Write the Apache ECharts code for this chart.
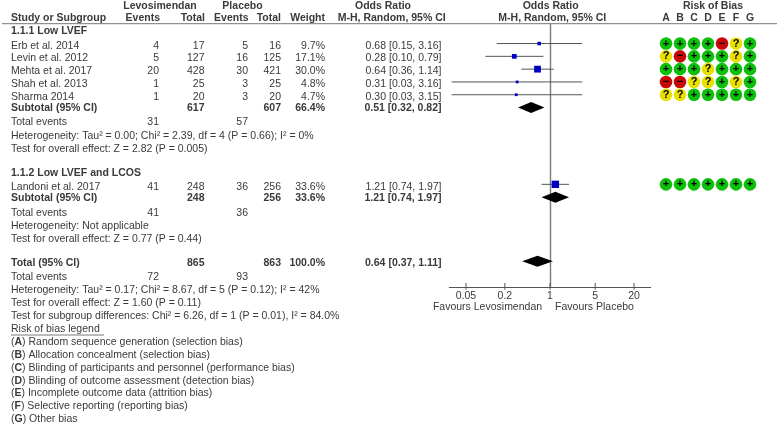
<!DOCTYPE html>
<html><head><meta charset="utf-8">
<style>html,body{margin:0;padding:0;background:#fff}#c{width:778px;height:426px;filter:blur(0.4px)}</style>
<script src="https://cdn.jsdelivr.net/npm/echarts@6/dist/echarts.min.js"></script>
</head><body><div id="c"></div>
<script>
// ---------- data ----------
const studies1 = ['Erb et al. 2014','Levin et al. 2012','Mehta et al. 2017','Shah et al. 2013','Sharma 2014'];
const eventsL1 = [4,5,20,1,1];
const totalL1  = [17,127,428,25,20];
const eventsP1 = [5,16,30,3,3];
const totalP1  = [16,125,421,25,20];
const weight1  = [9.7,17.1,30.0,4.8,4.7];
const or1 = [0.68,0.28,0.64,0.31,0.30];
const lo1 = [0.15,0.10,0.36,0.03,0.03];
const hi1 = [3.16,0.79,1.14,3.16,3.15];
const rob1 = ['++++-?+','?-+++?+','+++?+++','--??+?+','??+++++'];
const studies2 = ['Landoni et al. 2017'];
const eventsL2 = [41], totalL2 = [248], eventsP2 = [36], totalP2 = [256], weight2 = [33.6];
const or2 = [1.21], lo2 = [0.74], hi2 = [1.97];
const rob2 = ['+++++++'];
const pooledLabels = ['Subtotal (95% CI)','Subtotal (95% CI)','Total (95% CI)'];
const pooledOR = [0.51,1.21,0.64];
const pooledLo = [0.32,0.74,0.37];
const pooledHi = [0.82,1.97,1.11];
const pooledTotL = [617,248,865];
const pooledTotP = [607,256,863];
const pooledWeight = ['66.4%','33.6%','100.0%'];
const totalEventsL = [31,41,72];
const totalEventsP = [57,36,93];
const robCats = ['A','B','C','D','E','F','G'];
const tickValues = [0.05,0.2,1,5,20];
const notes1 = ['Heterogeneity: Tau² = 0.00; Chi² = 2.39, df = 4 (P = 0.66); I² = 0%','Test for overall effect: Z = 2.82 (P = 0.005)'];
const notes2 = ['Heterogeneity: Not applicable','Test for overall effect: Z = 0.77 (P = 0.44)'];
const notes3 = ['Heterogeneity: Tau² = 0.17; Chi² = 8.67, df = 5 (P = 0.12); I² = 42%','Test for overall effect: Z = 1.60 (P = 0.11)','Test for subgroup differences: Chi² = 6.26, df = 1 (P = 0.01), I² = 84.0%'];
const legendKeys = ['A','B','C','D','E','F','G'];
const legendText = ['Random sequence generation (selection bias)','Allocation concealment (selection bias)','Blinding of participants and personnel (performance bias)','Blinding of outcome assessment (detection bias)','Incomplete outcome data (attrition bias)','Selective reporting (reporting bias)','Other bias'];

// ---------- rows (table row index) ----------
const rows1 = [0,1,2,3,4], rows2 = [11], pooledRows = [5,12,17];

// ---------- layout ----------
const FS = 10.5, FF = '"Liberation Sans",Arial,sans-serif', TXT = '#3a3a3a';
const colX = {study:11, evL:159, toL:204.5, evP:248, toP:281, w:325, or:441.5};
const txtY1 = [45.7,58.6,71.2,84,97], txtY2 = [186.7], pooledY = [108.6,198.5,262.7];
const evY = [122.4,212.7,276.7];
const g = [];
function T(text,x,y,align,bold,extra){
  g.push({type:'text',x:x,y:y,silent:true,style:Object.assign({text:String(text),fill:TXT,
    font:(bold?'bold ':'')+FS+'px '+FF,textAlign:align||'left',textVerticalAlign:'middle'},extra||{})});
}
// header
T('Levosimendan',160,5.8,'center',true);T('Placebo',242.5,5.8,'center',true);
T('Odds Ratio',383,5.8,'center',true);T('Odds Ratio',550.7,5.8,'center',true);T('Risk of Bias',713,5.8,'center',true);
T('Study or Subgroup',colX.study,18.6,'left',true);T('Events',colX.evL+1,18.6,'right',true);T('Total',colX.toL+.5,18.6,'right',true);
T('Events',colX.evP+.5,18.6,'right',true);T('Total',colX.toP,18.6,'right',true);T('Weight',colX.w,18.6,'right',true);
T('M-H, Random, 95% CI',445.7,18.6,'right',true);T('M-H, Random, 95% CI',552.3,18.6,'center',true);
g.push({type:'line',silent:true,shape:{x1:2,y1:23.7,x2:777,y2:23.7},style:{stroke:'#777',lineWidth:1}});
T('1.1.1 Low LVEF',colX.study,31,'left',true);T('1.1.2 Low LVEF and LCOS',colX.study,172.7,'left',true);
const fmtOR = (o,l,h)=>o.toFixed(2)+' ['+l.toFixed(2)+', '+h.toFixed(2)+']';
function studyRows(names,eL,tL,eP,tP,w,o,l,h,ys){
  names.forEach((n,i)=>{const y=ys[i];T(n,colX.study,y);T(eL[i],colX.evL,y,'right');T(tL[i],colX.toL,y,'right');
    T(eP[i],colX.evP,y,'right');T(tP[i],colX.toP,y,'right');T(w[i].toFixed(1)+'%',colX.w,y,'right');T(fmtOR(o[i],l[i],h[i]),colX.or,y,'right');});
}
studyRows(studies1,eventsL1,totalL1,eventsP1,totalP1,weight1,or1,lo1,hi1,txtY1);
studyRows(studies2,eventsL2,totalL2,eventsP2,totalP2,weight2,or2,lo2,hi2,txtY2);
pooledLabels.forEach((n,i)=>{const y=pooledY[i];T(n,colX.study,y,'left',true);T(pooledTotL[i],colX.toL,y,'right',true);T(pooledTotP[i],colX.toP,y,'right',true);
  T(pooledWeight[i],colX.w,y,'right',true);T(fmtOR(pooledOR[i],pooledLo[i],pooledHi[i]),colX.or,y,'right',true);});
evY.forEach((y,i)=>{T('Total events',colX.study,y);T(totalEventsL[i],colX.evL,y,'right');T(totalEventsP[i],colX.evP,y,'right');});
notes1.forEach((s,i)=>T(s,colX.study,[136,149][i]));
notes2.forEach((s,i)=>T(s,colX.study,[225.7,238.7][i]));
notes3.forEach((s,i)=>T(s,colX.study,[290,302.9,315.8][i]));
T('Risk of bias legend',colX.study,329);
g.push({type:'line',silent:true,shape:{x1:11,y1:335,x2:104,y2:335},style:{stroke:'#555',lineWidth:.8}});
legendKeys.forEach((k,i)=>{
  T('({b|'+k+'}) '+legendText[i],colX.study,[342.3,355,367.8,380.7,393.5,406.3,419][i],'left',false,
    {rich:{b:{fontWeight:'bold',fontSize:FS,fontFamily:'Liberation Sans',fill:TXT}},fontSize:FS,fontFamily:'Liberation Sans'});
});
T('Favours Levosimendan',487.5,307.4,'center');T('Favours Placebo',594.5,307.4,'center');

// ---------- series data ----------
const studyData = [];
studies1.forEach((n,i)=>studyData.push([or1[i],rows1[i],lo1[i],hi1[i],weight1[i]]));
studies2.forEach((n,i)=>studyData.push([or2[i],rows2[i],lo2[i],hi2[i],weight2[i]]));
const pooledData = pooledOR.map((o,i)=>[o,pooledRows[i],pooledLo[i],pooledHi[i]]);
const robData = [];
const robAt = (arr,rows)=>arr.forEach((s,r)=>[...s].forEach((c,j)=>robData.push([robCats[j],rows[r],c])));
robAt(rob1,rows1);robAt(rob2,rows2);
const robColor = {'+':'#0cc00c','-':'#c80808','?':'#e8e000'};
const robGlyph = {'+':'+','-':'−','?':'?'};
const Y0=-1.55, Y1=19.02;

const chart = echarts.init(document.getElementById('c'),null,{renderer:'canvas'});
chart.setOption({
  animation:false, backgroundColor:'#fff',
  textStyle:{fontFamily:FF},
  graphic:{elements:g},
  grid:[{left:449.3,width:201.4,top:23.7,height:263.3},{left:659,width:98,top:23.7,height:263.3}],
  xAxis:[
    {type:'log',gridIndex:0,min:0.0276,max:36.2,logBase:10,splitLine:{show:false},minorTick:{show:false},
     axisLine:{show:true,onZero:false,lineStyle:{color:'#555',width:1}},axisTick:{show:false},
     axisLabel:{show:true,customValues:tickValues,formatter:v=>String(+(+v).toPrecision(3)),color:TXT,fontSize:FS,margin:4,hideOverlap:false,showMinLabel:true,showMaxLabel:true}},
    {type:'category',gridIndex:1,position:'top',data:robCats,axisLine:{show:false,onZero:false},axisTick:{show:false},
     axisLabel:{color:TXT,fontWeight:'bold',fontSize:FS,margin:0,interval:0,verticalAlign:'bottom',lineHeight:11}}
  ],
  yAxis:[
    {type:'value',gridIndex:0,inverse:true,min:Y0,max:Y1,show:false,splitLine:{show:false}},
    {type:'value',gridIndex:1,inverse:true,min:Y0,max:Y1,show:false,splitLine:{show:false}}
  ],
  series:[
    {type:'custom',xAxisIndex:0,yAxisIndex:0,silent:true,clip:false,z:2,data:tickValues.map(v=>[v,Y1]),
     encode:{x:0,y:1},
     renderItem:(p,api)=>{const c=api.coord([api.value(0),api.value(1)]);
       return {type:'line',shape:{x1:c[0],y1:c[1]-4,x2:c[0],y2:c[1]+2.7},style:{stroke:'#555',lineWidth:1}};},
     markLine:{silent:true,z:1,symbol:'none',label:{show:false},animation:false,lineStyle:{color:'#7a7a7a',width:1.4,type:'solid'},data:[{xAxis:1}]}},
    {type:'custom',xAxisIndex:0,yAxisIndex:0,silent:true,clip:false,z:3,data:studyData,encode:{x:0,y:1},
     renderItem:(p,api)=>{
       const y=api.value(1), c=api.coord([api.value(0),y]), a=api.coord([api.value(2),y]), b=api.coord([api.value(3),y]);
       const s=2+0.16*api.value(4);
       return {type:'group',children:[
         {type:'line',shape:{x1:a[0],y1:a[1],x2:b[0],y2:b[1]},style:{stroke:'#555',lineWidth:1}},
         {type:'rect',shape:{x:c[0]-s/2,y:c[1]-s/2,width:s,height:s},style:{fill:'#0000c4'}}]};
     }},
    {type:'custom',xAxisIndex:0,yAxisIndex:0,silent:true,clip:false,z:3,data:pooledData,encode:{x:0,y:1},
     renderItem:(p,api)=>{
       const y=api.value(1), c=api.coord([api.value(0),y]), a=api.coord([api.value(2),y]), b=api.coord([api.value(3),y]);
       return {type:'polygon',shape:{points:[[a[0],c[1]],[c[0],c[1]-5.5],[b[0],c[1]],[c[0],c[1]+5.5]]},style:{fill:'#000'}};
     }},
    {type:'scatter',xAxisIndex:1,yAxisIndex:1,silent:true,z:3,symbol:'circle',symbolSize:12.6,data:robData,
     itemStyle:{color:p=>robColor[p.value[2]],opacity:1},
     label:{show:true,position:'inside',formatter:p=>robGlyph[p.value[2]],color:'#000',fontWeight:'bold',fontSize:11,fontFamily:FF}}
  ]
});
</script></body></html>
